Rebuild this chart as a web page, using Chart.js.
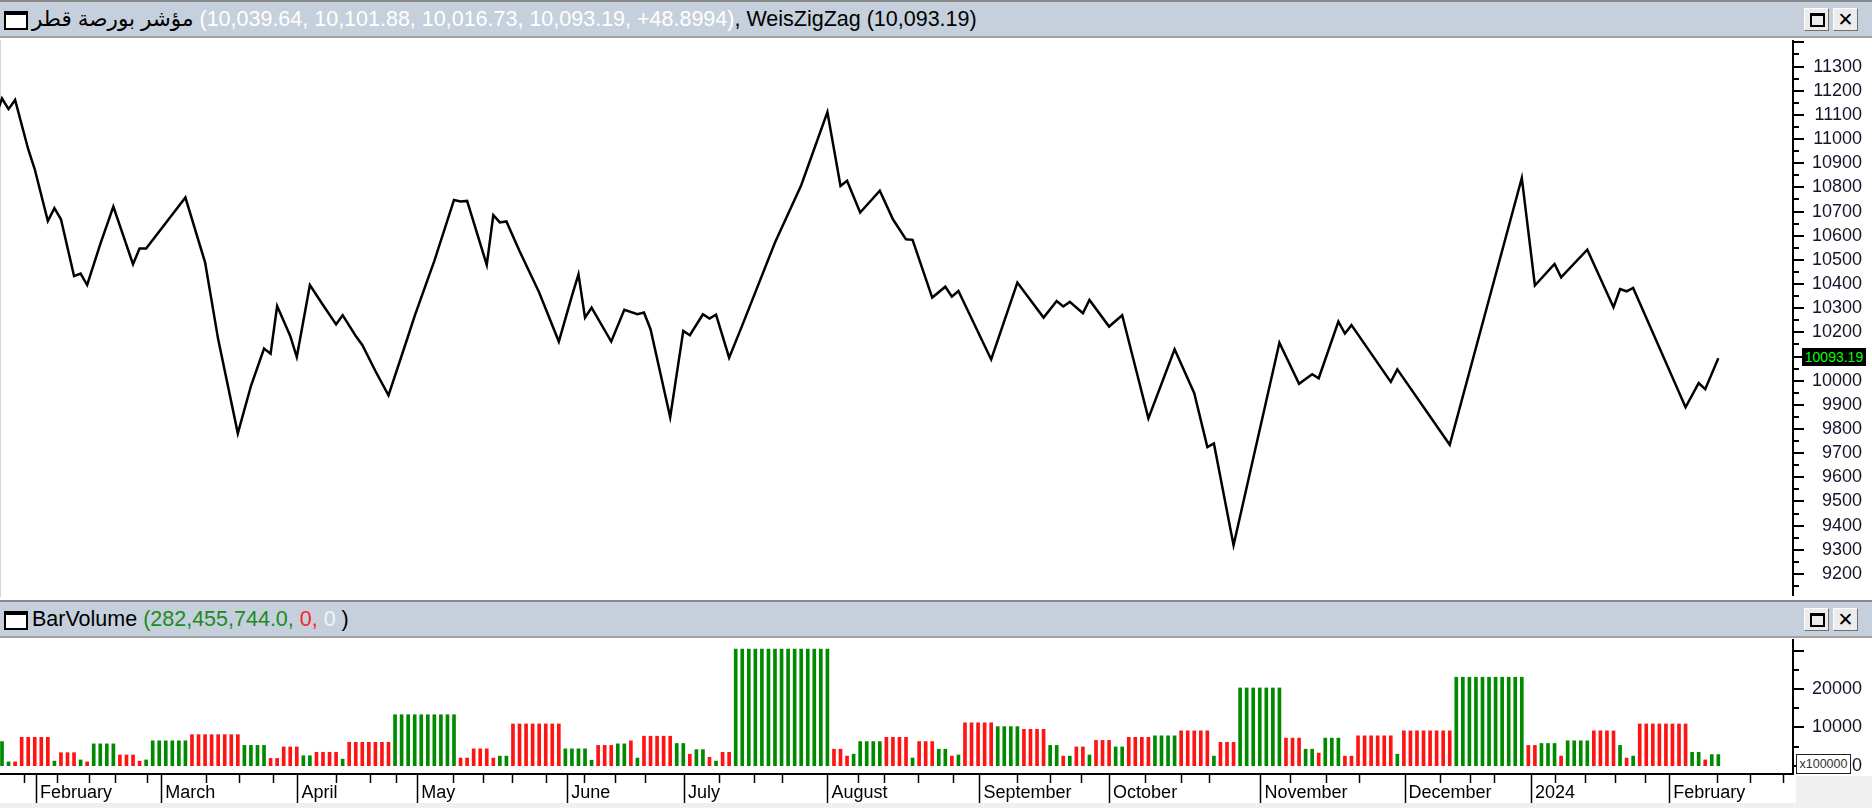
<!DOCTYPE html>
<html>
<head>
<meta charset="utf-8">
<title>مؤشر بورصة قطر</title>
<script src="https://cdn.jsdelivr.net/npm/chart.js@4.4.1/dist/chart.umd.min.js"></script>
<style>
  html, body { margin: 0; padding: 0; }
  body {
    position: relative; width: 1872px; height: 808px; overflow: hidden; background: #fff;
    font-family: "Liberation Sans", Arial, "DejaVu Sans", sans-serif;
  }
  .titlebar {
    position: absolute; left: 0; width: 1872px; height: 34px; background: #c5d0dc;
    border-top: 2px solid #8a8a8a; border-bottom: 2px solid #a2a2a2;
    font-size: 21.5px; line-height: 35px; white-space: nowrap; color: #000;
  }
  .titlebar .txt { position: absolute; left: 32px; top: 0; }
  .winicon {
    position: absolute; left: 4px; top: 9px; width: 20px; height: 13px; background: #fff;
    border: 2px solid #000; border-top-width: 4px;
  }
  .btn {
    position: absolute; top: 6px; width: 23px; height: 21px; background: #ececec;
    border: 1px solid; border-color: #fff #6e6e6e #6e6e6e #fff;
  }
  .btn.max { left: 1804px; }
  .btn.close { left: 1833px; }
  .btn.max i {
    position: absolute; left: 5px; top: 4px; width: 11px; height: 9px;
    border: 2px solid #000; border-top-width: 3px;
  }
  .btn.close span {
    position: absolute; left: 0; top: 0; width: 23px; line-height: 21px; text-align: center;
    font-family: "DejaVu Sans", sans-serif; font-weight: bold; font-size: 19px;
  }
  .gray { position: absolute; background: #f0f0f0; }
  canvas { position: absolute; left: 0; }
  #priceChart { top: 40px; }
  #volChart { top: 638px; }
  #lastBox {
    position: absolute; left: 1802px; width: 64px; height: 18px; background: #000;
    color: #00ff00; font-size: 14px; line-height: 18px; text-align: center;
  }
  #unitBox {
    position: absolute; left: 1796px; top: 754px; width: 53px; height: 18px; background: #fff;
    border: 1px solid #222; color: #333; font-size: 12.5px; line-height: 18px; text-align: center;
  }
</style>
</head>
<body>

<div class="gray" style="left:0; top:803px; width:1872px; height:5px;"></div>
<div class="gray" style="left:1796px; top:776px; width:76px; height:32px;"></div>
<div class="gray" style="left:0; top:40px; width:1px; height:557px; background:#d6d6d6;"></div>

<div class="titlebar" style="top:0">
  <div class="winicon"></div>
  <div class="txt"><bdi>مؤشر بورصة قطر</bdi> <span style="color:#fff">(10,039.64, 10,101.88, 10,016.73, 10,093.19, +48.8994)</span>, WeisZigZag (10,093.19)</div>
  <div class="btn max"><i></i></div>
  <div class="btn close"><span>✕</span></div>
</div>

<div class="titlebar" style="top:600px">
  <div class="winicon"></div>
  <div class="txt">BarVolume <span style="color:#1d8a1d">(282,455,744.0, </span><span style="color:#ff2222">0, </span><span style="color:#f4f4f4">0</span> )</div>
  <div class="btn max"><i></i></div>
  <div class="btn close"><span>✕</span></div>
</div>

<canvas id="priceChart" width="1872" height="557"></canvas>
<canvas id="volChart" width="1872" height="170"></canvas>

<div id="lastBox">10093.19</div>
<div id="unitBox">x100000</div>

<script>
// WeisZigZag line: bar index and value of each turning point
const zzIdx = [-1, 0, 1, 2, 4, 5, 7, 8, 9, 11, 12, 13, 15, 17, 20, 21, 22, 28, 31, 33,
  36, 38, 40, 41, 42, 44, 45, 47, 49, 51, 52, 54, 55, 57, 59, 62, 63, 65, 66, 69,
  70, 71, 74, 75, 76, 77, 79, 82, 85, 87, 88, 89, 90, 93, 95, 97, 98, 99, 102, 104,
  105, 107, 108, 109, 111, 113, 118, 122, 126, 128, 129, 131, 134, 136, 138, 139, 142, 144, 145, 146,
  151, 155, 159, 161, 162, 163, 165, 166, 169, 171, 175, 179, 182, 184, 185, 188, 195, 198, 200, 201,
  204, 205, 206, 212, 213, 221, 232, 234, 237, 238, 242, 246, 247, 248, 249, 257, 259, 260, 262];
const zzVal = [11091, 11168, 11124, 11162, 10958, 10875, 10661, 10714, 10668, 10433, 10443, 10396, 10565, 10721, 10482, 10547, 10547, 10758, 10490, 10171,
  9782, 9978, 10133, 10112, 10309, 10185, 10098, 10396, 10313, 10233, 10271, 10185, 10148, 10040, 9939, 10185, 10268, 10420, 10496, 10748,
  10742, 10744, 10479, 10685, 10655, 10659, 10537, 10365, 10162, 10351, 10440, 10261, 10302, 10162, 10293, 10275, 10282, 10213, 9849, 10206,
  10188, 10275, 10257, 10273, 10095, 10229, 10572, 10809, 11112, 10806, 10827, 10696, 10786, 10668, 10585, 10583, 10344, 10389, 10348, 10371,
  10088, 10406, 10261, 10330, 10307, 10326, 10279, 10334, 10224, 10271, 9844, 10130, 9948, 9725, 9740, 9319, 10157, 9987, 10027, 10010,
  10245, 10195, 10230, 9995, 10047, 9735, 10839, 10394, 10483, 10428, 10542, 10304, 10379, 10370, 10384, 9890, 9990, 9965, 10093.19];
const lastClose = 10093.19;

// BarVolume waves (x100000): bars per wave, wave volume, 1 = up (green), 0 = down (red)
const waveLen = [1, 1, 1, 5, 1, 3, 1, 1, 4, 3, 1, 1, 6, 8, 4, 2, 3, 2, 4, 1,
  7, 10, 2, 3, 1, 2, 8, 4, 1, 3, 2, 1, 1, 5, 2, 1, 2, 1, 1, 2,
  15, 2, 1, 1, 4, 4, 1, 3, 2, 1, 1, 5, 4, 4, 2, 1, 1, 2, 1, 3,
  2, 4, 4, 5, 1, 3, 7, 3, 2, 1, 3, 2, 6, 1, 8, 11, 2, 3, 1, 4,
  4, 1, 1, 1, 8, 2, 1, 2];
const waveVol = [6300, 1000, 1000, 7400, 1200, 3400, 1500, 1000, 5700, 2800, 1200, 1500, 6500, 8100, 5300, 1900, 4900, 2600, 3500, 1700,
  6100, 13300, 2000, 4400, 2000, 2500, 10900, 4400, 1400, 5300, 5700, 6500, 2000, 7700, 5800, 3000, 4200, 2200, 1200, 3500,
  30450, 4300, 2500, 3000, 6300, 7400, 2000, 6300, 4300, 2500, 2800, 11200, 10200, 9500, 5300, 2500, 2500, 4900, 2800, 6600,
  4900, 7400, 7800, 9100, 2500, 6100, 20300, 7200, 4300, 3300, 7200, 2500, 7800, 3000, 9100, 23100, 5300, 5800, 2500, 6500,
  9100, 5300, 2000, 2500, 10900, 3500, 1500, 2900];
const waveUp = [1, 1, 0, 0, 1, 0, 1, 0, 1, 0, 0, 1, 1, 0, 1, 0, 0, 1, 0, 1,
  0, 1, 0, 0, 0, 1, 0, 1, 1, 0, 1, 0, 1, 0, 1, 0, 1, 0, 1, 0,
  1, 0, 0, 1, 1, 0, 1, 0, 1, 0, 1, 0, 1, 0, 1, 0, 1, 0, 1, 0,
  1, 0, 1, 0, 1, 0, 1, 0, 1, 0, 1, 0, 0, 1, 0, 1, 0, 1, 0, 1,
  0, 1, 0, 1, 0, 1, 0, 1];

// x axis: month starts and weekly marks (bar index)
const monthIdx = [5.2, 24.3, 45.1, 63.4, 86.3, 104.1, 126, 149.2, 169, 192.1, 214.1, 233.4, 254.5];
const monthNames = ['February', 'March', 'April', 'May', 'June', 'July', 'August', 'September',
  'October', 'November', 'December', '2024', 'February'];
const weekIdx = [3.3, 8.4, 13.3, 17.3, 22.2, 31.1, 36.2, 41.4, 51, 56.1, 60.1, 68.8, 73.5, 77.9, 83,
  88.9, 93.5, 98.1, 109.5, 114.8, 119.1, 130.6, 134.7, 139.8, 145.2, 155, 160, 164.7,
  174.5, 180, 184.3, 196.6, 202.1, 207.2, 219.5, 224.1, 227.8, 237.1, 241.7, 246.3, 250.8,
  261.8, 266.9, 271.9];

const volTicks = [0, 5000, 10000, 15000, 20000, 25000, 30000];
const volLabels = [0, 10000, 20000];

const X_MIN = -0.305;
const X_MAX = 273.4;
const GREEN = '#008a00';
const RED = '#ff1414';

Chart.defaults.font.family = '"Liberation Sans", Arial, sans-serif';
Chart.defaults.font.size = 18;
Chart.defaults.color = '#000';

// short and long tick marks on the axes
const axisTicks = {
  id: 'axisTicks',
  afterDraw(chart, args, opts) {
    const ctx = chart.ctx;
    ctx.save();
    ctx.strokeStyle = '#000';
    ctx.lineWidth = 2;
    const y = chart.scales.y;
    y.ticks.forEach(t => {
      const py = Math.round(y.getPixelForValue(t.value));
      const len = t.value % opts.major === 0 ? 11 : 6;
      ctx.beginPath();
      ctx.moveTo(y.left, py);
      ctx.lineTo(y.left + len, py);
      ctx.stroke();
    });
    const x = chart.scales.x;
    if (x.options.display) {
      ctx.lineWidth = 1.5;
      x.ticks.forEach(t => {
        const px = Math.round(x.getPixelForValue(t.value)) + 0.5;
        const len = monthIdx.includes(t.value) ? 29 : 9;
        ctx.beginPath();
        ctx.moveTo(px, x.top);
        ctx.lineTo(px, x.top + len);
        ctx.stroke();
      });
    }
    ctx.restore();
  }
};

// right axis box: 69 px wide plus 10 px page margin, so the plot ends at x = 1793
function fitRight(scale) {
  scale.width = 69;
  scale.paddingTop = 0;
  scale.paddingBottom = 0;
}

const priceTicks = [];
for (let v = 9150; v <= 11400; v += 50) priceTicks.push(v);

const priceChart = new Chart(document.getElementById('priceChart'), {
  type: 'line',
  data: {
    datasets: [{
      data: zzIdx.map((x, k) => ({ x: x, y: zzVal[k] })),
      borderColor: '#000',
      borderWidth: 2.5,
      pointRadius: 0,
      tension: 0,
      fill: false
    }]
  },
  options: {
    responsive: false,
    animation: false,
    devicePixelRatio: 1,
    layout: { autoPadding: false, padding: { top: 0, right: 10, bottom: 2, left: 0 } },
    plugins: {
      legend: { display: false },
      tooltip: { enabled: false },
      axisTicks: { major: 100 }
    },
    scales: {
      x: { type: 'linear', display: false, min: X_MIN, max: X_MAX, offset: false },
      y: {
        type: 'linear',
        position: 'right',
        min: 9113,
        max: 11410,
        grid: { display: false, drawTicks: false },
        border: { display: true, color: '#000', width: 2 },
        ticks: {
          autoSkip: false,
          padding: 12,
          crossAlign: 'far',
          color: '#14142a',
          callback: v => (v % 100 === 0 && v >= 9200 && v <= 11300) ? String(v) : ''
        },
        afterBuildTicks: s => { s.ticks = priceTicks.map(v => ({ value: v })); },
        afterFit: fitRight
      }
    }
  },
  plugins: [axisTicks]
});

// place the last-price box on the price scale
const lastY = priceChart.scales.y.getPixelForValue(lastClose);
document.getElementById('lastBox').style.top = (40 + lastY - 10) + 'px';

// expand the waves to one bar per trading day
const volBars = [];
const volColors = [];
let bar = 0;
waveLen.forEach((n, w) => {
  for (let k = 0; k < n; k++) {
    volBars.push({ x: bar, y: waveVol[w] });
    volColors.push(waveUp[w] ? GREEN : RED);
    bar++;
  }
});

new Chart(document.getElementById('volChart'), {
  type: 'bar',
  data: {
    datasets: [{
      data: volBars,
      backgroundColor: volColors,
      borderWidth: 0,
      barThickness: 3
    }]
  },
  options: {
    responsive: false,
    animation: false,
    devicePixelRatio: 1,
    layout: { autoPadding: false, padding: { top: 2, right: 10, bottom: 0, left: 0 } },
    plugins: {
      legend: { display: false },
      tooltip: { enabled: false },
      axisTicks: { major: 10000 }
    },
    scales: {
      x: {
        type: 'linear',
        min: X_MIN,
        max: X_MAX,
        offset: false,
        grid: { display: false, drawTicks: false },
        border: { display: true, color: '#000', width: 2 },
        ticks: {
          autoSkip: false,
          maxRotation: 0,
          minRotation: 0,
          align: 'start',
          labelOffset: 4,
          padding: 8,
          color: '#000',
          callback: v => {
            const k = monthIdx.indexOf(v);
            return k >= 0 ? monthNames[k] : '';
          }
        },
        afterBuildTicks: s => {
          s.ticks = monthIdx.concat(weekIdx).sort((a, b) => a - b).map(v => ({ value: v }));
        },
        afterFit: s => { s.height = 34; s.paddingLeft = 0; s.paddingRight = 0; }
      },
      y: {
        type: 'linear',
        position: 'right',
        min: -2170,
        max: 32820,
        grid: { display: false, drawTicks: false },
        border: { display: true, color: '#000', width: 2 },
        ticks: {
          autoSkip: false,
          padding: 12,
          crossAlign: 'far',
          color: '#14142a',
          callback: v => volLabels.includes(v) ? String(v) : ''
        },
        afterBuildTicks: s => { s.ticks = volTicks.map(v => ({ value: v })); },
        afterFit: fitRight
      }
    }
  },
  plugins: [axisTicks]
});
</script>
</body>
</html>
